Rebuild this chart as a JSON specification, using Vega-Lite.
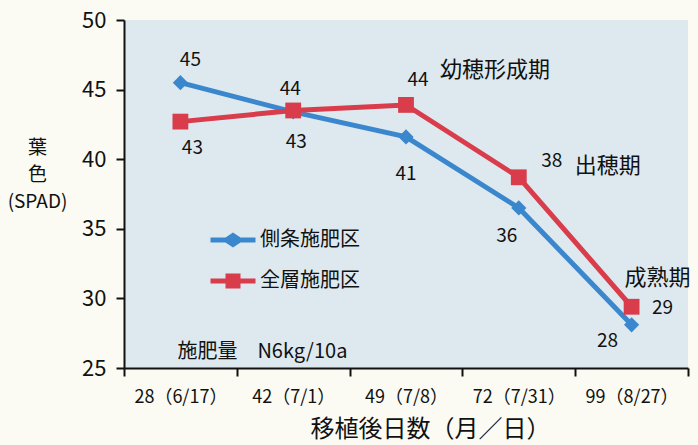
{
  "$schema": "https://vega.github.io/schema/vega-lite/v6.json",
  "width": 564,
  "height": 348,
  "autosize": {"type": "none"},
  "padding": {"left": 124, "top": 20, "right": 10, "bottom": 77},
  "background": "#fbfbf4",
  "config": {
    "font": "Noto Sans CJK JP",
    "view": {"fill": "#dde9ef", "stroke": null},
    "text": {"font": "Noto Sans CJK JP", "color": "#111111"}
  },
  "datasets": {
    "pts": [
      {"k": "b1", "s": "側条施肥区", "d": "28（6/17）", "v": 45.5, "lab": "45"},
      {"k": "b2", "s": "側条施肥区", "d": "42（7/1）", "v": 43.4, "lab": "43"},
      {"k": "b3", "s": "側条施肥区", "d": "49（7/8）", "v": 41.6, "lab": "41"},
      {"k": "b4", "s": "側条施肥区", "d": "72（7/31）", "v": 36.5, "lab": "36"},
      {"k": "b5", "s": "側条施肥区", "d": "99（8/27）", "v": 28.1, "lab": "28"},
      {"k": "r1", "s": "全層施肥区", "d": "28（6/17）", "v": 42.7, "lab": "43"},
      {"k": "r2", "s": "全層施肥区", "d": "42（7/1）", "v": 43.5, "lab": "44"},
      {"k": "r3", "s": "全層施肥区", "d": "49（7/8）", "v": 43.9, "lab": "44"},
      {"k": "r4", "s": "全層施肥区", "d": "72（7/31）", "v": 38.7, "lab": "38"},
      {"k": "r5", "s": "全層施肥区", "d": "99（8/27）", "v": 29.4, "lab": "29"}
    ],
    "ann": [
      {"k": "a1", "d": "49（7/8）", "v": 46.4, "t": "幼穂形成期"},
      {"k": "a2", "d": "72（7/31）", "v": 39.5, "t": "出穂期"},
      {"k": "a3", "d": "99（8/27）", "v": 31.5, "t": "成熟期"},
      {"k": "a4", "d": "28（6/17）", "v": 26.15, "t": "施肥量　N6kg/10a"}
    ]
  },
  "encoding": {
    "x": {
      "field": "d", "type": "nominal", "sort": null,
      "scale": {"domain": ["28（6/17）", "42（7/1）", "49（7/8）", "72（7/31）", "99（8/27）"], "paddingInner": 0, "paddingOuter": 0},
      "axis": {
        "title": "移植後日数（月／日）", "titleFontSize": 24, "titleFontWeight": "normal", "titleColor": "#111111", "titlePadding": 11,
        "titleX": 306, "titleAlign": "center",
        "labelAngle": 0, "labelFontSize": 18, "labelColor": "#111111", "labelPadding": 12,
        "tickBand": "extent", "tickSize": 8, "tickColor": "#111111", "tickWidth": 2,
        "domainColor": "#111111", "domainWidth": 2, "grid": false
      }
    },
    "y": {
      "field": "v", "type": "quantitative",
      "scale": {"domain": [25, 50], "nice": false, "zero": false},
      "axis": {
        "values": [25, 30, 35, 40, 45, 50],
        "title": ["葉", "色", "(SPAD)"], "titleAngle": 0, "titleFontSize": 19, "titleFontWeight": "normal", "titleColor": "#111111",
        "titleX": -87, "titleY": 118, "titleAlign": "center", "titleBaseline": "top", "titleLineHeight": 27,
        "labelFontSize": 22, "labelColor": "#111111", "labelPadding": 10,
        "tickSize": 8, "tickColor": "#111111", "tickWidth": 2,
        "domainColor": "#111111", "domainWidth": 2, "grid": false
      }
    }
  },
  "layer": [
    {
      "data": {"name": "pts"},
      "mark": {"type": "line", "strokeWidth": 5},
      "encoding": {
        "color": {
          "field": "s", "type": "nominal",
          "scale": {"domain": ["側条施肥区", "全層施肥区"], "range": ["#3b87cd", "#d93c4b"]},
          "legend": {
            "title": null, "orient": "none", "legendX": 94, "legendY": 205,
            "symbolType": "M-1.5,-0.17H-0.5L0,-0.5L0.5,-0.17H1.5V0.17H0.5L0,0.5L-0.5,0.17H-1.5Z",
            "symbolSize": 900, "symbolStrokeWidth": 0, "labelFontSize": 20, "labelColor": "#111111", "labelOffset": 12, "rowPadding": 16,
            "labelFont": "Noto Sans CJK JP",
            "encode": {
              "symbols": {
                "update": {
                  "shape": {"signal": "datum.value === '側条施肥区' ? 'M-1.5,-0.17H-0.5L0,-0.5L0.5,-0.17H1.5V0.17H0.5L0,0.5L-0.5,0.17H-1.5Z' : 'M-1.5,-0.17H-0.5V-0.5H0.5V-0.17H1.5V0.17H0.5V0.5H-0.5V0.17H-1.5Z'"},
                  "fill": {"signal": "datum.value === '側条施肥区' ? '#3b87cd' : '#d93c4b'"},
                  "strokeWidth": {"value": 0},
                  "opacity": {"value": 1}
                }
              }
            }
          }
        }
      }
    },
    {
      "data": {"name": "pts"},
      "transform": [{"filter": "datum.s === '側条施肥区'"}],
      "mark": {"type": "point", "filled": true, "opacity": 1, "shape": "diamond", "size": 230, "color": "#3b87cd"}
    },
    {
      "data": {"name": "pts"},
      "transform": [{"filter": "datum.s === '全層施肥区'"}],
      "mark": {"type": "point", "filled": true, "opacity": 1, "shape": "square", "size": 250, "color": "#d93c4b"}
    },
    {"data": {"name": "pts"}, "transform": [{"filter": "datum.k === 'b1'"}], "mark": {"type": "text", "fontSize": 19, "dx": 10, "dy": -23}, "encoding": {"text": {"field": "lab"}}},
    {"data": {"name": "pts"}, "transform": [{"filter": "datum.k === 'b2'"}], "mark": {"type": "text", "fontSize": 19, "dx": 3, "dy": 30}, "encoding": {"text": {"field": "lab"}}},
    {"data": {"name": "pts"}, "transform": [{"filter": "datum.k === 'b3'"}], "mark": {"type": "text", "fontSize": 19, "dx": 0, "dy": 37}, "encoding": {"text": {"field": "lab"}}},
    {"data": {"name": "pts"}, "transform": [{"filter": "datum.k === 'b4'"}], "mark": {"type": "text", "fontSize": 19, "dx": -12, "dy": 28}, "encoding": {"text": {"field": "lab"}}},
    {"data": {"name": "pts"}, "transform": [{"filter": "datum.k === 'b5'"}], "mark": {"type": "text", "fontSize": 19, "dx": -24, "dy": 16}, "encoding": {"text": {"field": "lab"}}},
    {"data": {"name": "pts"}, "transform": [{"filter": "datum.k === 'r1'"}], "mark": {"type": "text", "fontSize": 19, "dx": 12, "dy": 26}, "encoding": {"text": {"field": "lab"}}},
    {"data": {"name": "pts"}, "transform": [{"filter": "datum.k === 'r2'"}], "mark": {"type": "text", "fontSize": 19, "dx": -3, "dy": -21}, "encoding": {"text": {"field": "lab"}}},
    {"data": {"name": "pts"}, "transform": [{"filter": "datum.k === 'r3'"}], "mark": {"type": "text", "fontSize": 19, "dx": 12, "dy": -25}, "encoding": {"text": {"field": "lab"}}},
    {"data": {"name": "pts"}, "transform": [{"filter": "datum.k === 'r4'"}], "mark": {"type": "text", "fontSize": 19, "dx": 33, "dy": -16}, "encoding": {"text": {"field": "lab"}}},
    {"data": {"name": "pts"}, "transform": [{"filter": "datum.k === 'r5'"}], "mark": {"type": "text", "fontSize": 19, "dx": 31, "dy": 1}, "encoding": {"text": {"field": "lab"}}},
    {"data": {"name": "ann"}, "transform": [{"filter": "datum.k === 'a1'"}], "mark": {"type": "text", "fontSize": 22, "align": "left", "baseline": "middle", "dx": 34}, "encoding": {"text": {"field": "t"}}},
    {"data": {"name": "ann"}, "transform": [{"filter": "datum.k === 'a2'"}], "mark": {"type": "text", "fontSize": 22, "align": "left", "baseline": "middle", "dx": 56}, "encoding": {"text": {"field": "t"}}},
    {"data": {"name": "ann"}, "transform": [{"filter": "datum.k === 'a3'"}], "mark": {"type": "text", "fontSize": 22, "align": "left", "baseline": "middle", "dx": -7}, "encoding": {"text": {"field": "t"}}},
    {"data": {"name": "ann"}, "transform": [{"filter": "datum.k === 'a4'"}], "mark": {"type": "text", "fontSize": 20, "align": "left", "baseline": "middle", "dx": -3}, "encoding": {"text": {"field": "t"}}}
  ]
}
